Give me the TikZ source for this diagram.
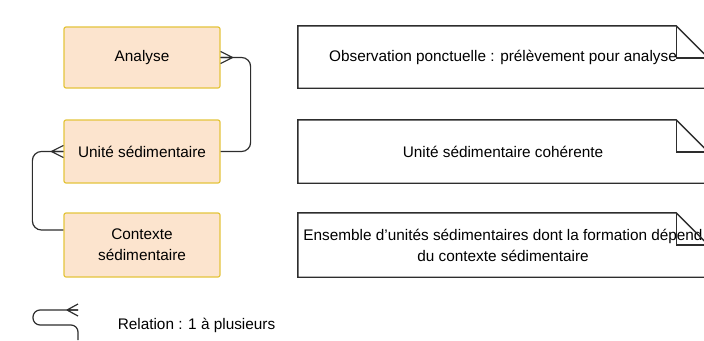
\documentclass[tikz,border=0pt]{standalone}
\usepackage{fontspec}
\setmainfont{Liberation Sans}
\usetikzlibrary{calc}
\definecolor{entfill}{RGB}{252,228,206}
\definecolor{entdraw}{RGB}{228,196,60}
\definecolor{inkgray}{RGB}{45,45,45}
\tikzset{
  entbox/.style   = {draw=entdraw, fill=entfill, line width=1.2bp, rounded corners=2bp,
                     align=center, minimum width=156bp, inner sep=2bp},
  notebox/.style  = {align=center, minimum width=410bp, inner sep=1bp},
  notefold/.style = {draw=inkgray, line width=1.4bp},
  rel/.style      = {draw=inkgray, line width=1.2bp, rounded corners=9bp},
  foot/.style     = {draw=inkgray, line width=1.2bp},
  lbl/.style      = {inner sep=0pt}
}
\newcommand{\crowsfoot}[2]{% #1 = point on the box, #2 = offset of the junction
  \draw[foot] ($(#1)+(#2,0)$) -- ($(#1)+(0,6)$)
              ($(#1)+(#2,0)$) -- (#1)
              ($(#1)+(#2,0)$) -- ($(#1)+(0,-6)$);}

\begin{document}
\begin{tikzpicture}[x=1bp, y=1bp]
\fontsize{15.4}{21}\selectfont
\useasboundingbox (0,0) rectangle (704,340);
\clip (0,0) rectangle (704,340);

% ---- entities ----
\node[entbox, minimum height=61bp] (anal)  at (142,282.5) {Analyse};
\node[entbox, minimum height=63bp] (unite) at (142,188.5) {Unité sédimentaire};
\node[entbox, minimum height=64bp] (ctx)   at (142,95)    {Contexte\\ sédimentaire};

% ---- notes ----
\node[notebox, minimum height=62bp] (note1) at (503,283)   {Observation ponctuelle : prélèvement pour analyse};
\node[notebox, minimum height=63bp] (note2) at (503,188.5) {Unité sédimentaire cohérente};
\node[notebox, minimum height=64bp] (note3) at (503,95)
  {Ensemble d'unités sédimentaires dont la formation dépend\\ du contexte sédimentaire};
\foreach \nt in {note1,note2,note3} {
  \draw[notefold] (\nt.south west) |- ($(\nt.north east)+(-32,0)$)
    -- ($(\nt.north east)+(0,-32)$) |- cycle;
  \draw[notefold] ($(\nt.north east)+(-32,0)$) |- ($(\nt.north east)+(0,-32)$);
}

% ---- relations ----
\draw[rel] (unite.east) -- ++(30,0) |- (anal.east);
\crowsfoot{anal.east}{12}
\draw[rel] ($(ctx.west)+(0,15)$) -- ++(-31,0) |- (unite.west);
\crowsfoot{unite.west}{-12}

% ---- legend ----
\coordinate (legstart) at (78,0);
\coordinate (legend)   at (78,30);
\draw[rel, rounded corners=7bp] (legstart) -- (78,15) -- (33,15) -- (33,30) -- (legend);
\crowsfoot{legend}{-11}
\node[lbl] (legtxt) at (196.5,15) {Relation : 1 à plusieurs};
\end{tikzpicture}
\end{document}
